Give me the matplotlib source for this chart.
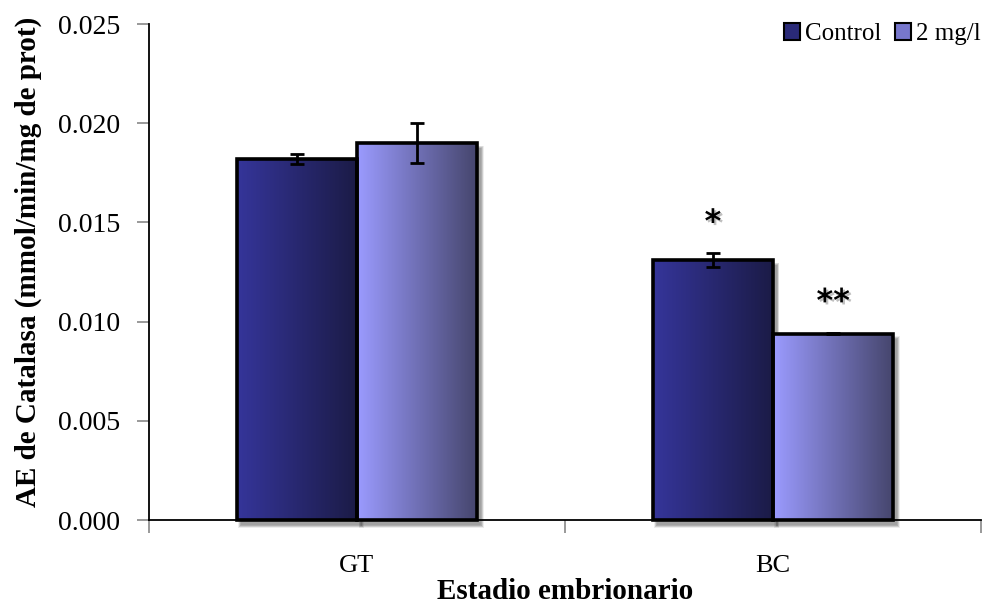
import numpy as np
import matplotlib
matplotlib.use("Agg")
import matplotlib.pyplot as plt
from matplotlib.patches import Rectangle, Patch
from matplotlib.colors import LinearSegmentedColormap
import matplotlib.patheffects as pe

# Catalase specific activity by embryonic stage
stages = ["GT", "BC"]
series_names = ["Control", "2 mg/l"]
control = [0.0182, 0.0131]
treated = [0.0190, 0.0094]
control_err = [0.00025, 0.00035]
treated_err = [0.0010, 0.00005]
control_sig = ["", "*"]
treated_sig = ["", "**"]
yticks = [0.000, 0.005, 0.010, 0.015, 0.020, 0.025]

plt.rcParams["font.family"] = ["Liberation Serif", "DejaVu Serif"]

fig = plt.figure(figsize=(9.87, 6.05), dpi=100)
ax = fig.add_axes([149 / 987, 1 - 520 / 605, (981 - 149) / 987, (520 - 24) / 605])

xlim = (-0.5, 1.5)
ylim = (0.0, 0.025)
ax_w_px = 981 - 149
ax_h_px = 520 - 24
px_x = (xlim[1] - xlim[0]) / ax_w_px
px_y = (ylim[1] - ylim[0]) / ax_h_px

bar_w = 0.289
colors = [("#35359a", "#1b1b46"), ("#9b9bff", "#45456c")]

def gradient_bar(xc, h, c_left, c_right):
    x0 = xc - bar_w / 2
    # soft drop shadow
    for i in range(6):
        grow = (5 - i) * 1.0
        ax.add_patch(Rectangle((x0 + 4 * px_x - grow * px_x * 0.5, -5 * px_y - grow * px_y * 0.5),
                               bar_w + grow * px_x, h + grow * px_y,
                               facecolor="black", edgecolor="none", alpha=0.07,
                               zorder=1, clip_on=False))
    cmap = LinearSegmentedColormap.from_list("g", [c_left, c_right])
    grad = np.linspace(0, 1, 256).reshape(1, -1)
    ax.imshow(grad, cmap=cmap, extent=(x0, x0 + bar_w, 0, h), aspect="auto",
              interpolation="bicubic", zorder=2, clip_on=False)
    ax.add_patch(Rectangle((x0, 0), bar_w, h, facecolor="none", edgecolor="black",
                           linewidth=2.6, zorder=3, clip_on=False))

x = np.arange(len(stages))
for vals, errs, sigs, (cl, cr), off in [
    (control, control_err, control_sig, colors[0], -bar_w / 2),
    (treated, treated_err, treated_sig, colors[1], bar_w / 2),
]:
    for xi, v, e, s in zip(x, vals, errs, sigs):
        gradient_bar(xi + off, v, cl, cr)
        ax.errorbar(xi + off, v, yerr=e, fmt="none", ecolor="black",
                    elinewidth=2.0, capsize=5, capthick=2.0, zorder=4)
        if s:
            ax.text(xi + off, v + e + 0.0015, s, ha="center", va="center",
                    fontsize=23, fontweight="bold", family="DejaVu Sans", zorder=5,
                    path_effects=[pe.withSimplePatchShadow(offset=(1.5, -1.5),
                                                           shadow_rgbFace="gray", alpha=0.5)])

ax.set_xlim(*xlim)
ax.set_ylim(*ylim)

for sp in ["top", "right"]:
    ax.spines[sp].set_visible(False)
for sp in ["left", "bottom"]:
    ax.spines[sp].set_linewidth(1.3)
    ax.spines[sp].set_zorder(2.5)

ax.set_yticks(yticks)
ax.set_yticklabels([f"{t:.3f}" for t in yticks], fontsize=20)
ax.tick_params(axis="y", direction="out", length=9, width=1.2, color="#888888", pad=12)

ax.set_xticks(x)
ax.set_xticklabels(stages, fontsize=19)
ax.set_xticks([-0.5, 0.5, 1.5], minor=True)
ax.tick_params(axis="x", which="major", length=0, pad=25)
ax.tick_params(axis="x", which="minor", direction="out", length=9, width=1.2, color="#888888")

ax.set_ylabel("AE de Catalasa (mmol/min/mg de prot)", fontsize=21, fontweight="bold")
ax.yaxis.set_label_coords(-0.1286, 0.52)
ax.set_xlabel("Estadio embrionario", fontsize=21, fontweight="bold", labelpad=1)

handles = [Patch(facecolor="#2a2a78", edgecolor="black", linewidth=1.5),
           Patch(facecolor="#7777cc", edgecolor="black", linewidth=1.5)]
ax.legend(handles, series_names, loc="upper right", bbox_to_anchor=(1.012, 1.022),
          ncol=2, frameon=False, fontsize=18, handlelength=0.65, handleheight=0.65,
          handletextpad=0.2, columnspacing=0.55, borderaxespad=0)

fig.savefig("out.png", dpi=100)
